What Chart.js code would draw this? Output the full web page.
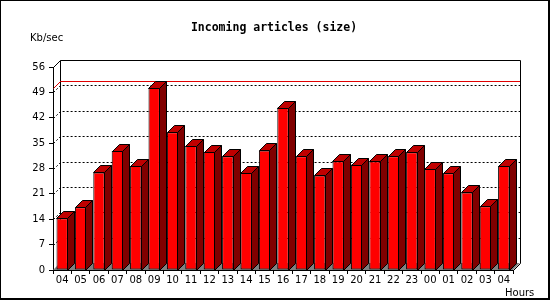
<!DOCTYPE html>
<html>
<head>
<meta charset="utf-8">
<script src="https://cdn.jsdelivr.net/npm/chart.js@4/dist/chart.umd.min.js"></script>
<style>
  html, body { margin: 0; padding: 0; background: #fff; }
  #wrap { width: 550px; height: 300px; }
</style>
</head>
<body>
<div id="wrap"><canvas id="chart" width="550" height="300"></canvas></div>
<script>
// ---- data ----
const hours = ['04','05','06','07','08','09','10','11','12','13','14','15','16',
               '17','18','19','20','21','22','23','00','01','02','03','04'];
const kbPerSec = [14.3, 17.3, 26.9, 32.8, 28.7, 50.2, 38.0, 34.2, 32.6, 31.4, 26.8, 33.0, 44.8,
                  31.4, 26.1, 30.0, 29.1, 30.0, 31.4, 32.5, 28.0, 26.7, 21.4, 17.6, 28.7];
const yMax = 56;
const yStep = 7;

const titleText = 'Incoming articles (size)';
const yLabel = 'Kb/sec';
const xLabel = 'Hours';

// depth of the fake 3d extrusion
const depth = 7;

const threeD = {
  id: 'threeD',
  beforeDatasetsDraw(chart) {
    const { ctx, chartArea: a, scales: { y } } = chart;
    const L = Math.round(a.left), R = Math.round(a.right);
    const T = Math.round(a.top), B = Math.round(a.bottom);
    ctx.save();

    // floor
    ctx.fillStyle = '#808080';
    ctx.beginPath();
    ctx.moveTo(L, B); ctx.lineTo(R, B);
    ctx.lineTo(R + depth, B - depth); ctx.lineTo(L + depth, B - depth);
    ctx.closePath(); ctx.fill();

    // back wall frame
    ctx.strokeStyle = '#000';
    ctx.lineWidth = 1;
    ctx.beginPath();
    ctx.moveTo(L + 0.5, T + 0.5);
    ctx.lineTo(L + depth + 0.5, T - depth + 0.5);
    ctx.moveTo(L + depth + 0.5, B - depth + 0.5);
    ctx.lineTo(L + depth + 0.5, T - depth + 0.5);
    ctx.lineTo(R + depth + 0.5, T - depth + 0.5);
    ctx.lineTo(R + depth + 0.5, B - depth + 0.5);
    ctx.lineTo(R + 0.5, B + 0.5);
    ctx.stroke();

    // dotted grid on the back wall
    ctx.setLineDash([2, 2]);
    for (let v = yStep; v < yMax; v += yStep) {
      const yy = Math.round(y.getPixelForValue(v));
      ctx.beginPath();
      ctx.moveTo(L + 0.5, yy + 0.5);
      ctx.lineTo(L + depth + 0.5, yy - depth + 0.5);
      ctx.lineTo(R + depth, yy - depth + 0.5);
      ctx.stroke();
    }
    ctx.setLineDash([]);

    // max value line
    const ym = Math.round(y.getPixelForValue(Math.max(...kbPerSec)));
    ctx.strokeStyle = '#e00000';
    ctx.beginPath();
    ctx.moveTo(L + 0.5, ym + 0.5);
    ctx.lineTo(L + depth + 0.5, ym - depth + 0.5);
    ctx.lineTo(R + depth, ym - depth + 0.5);
    ctx.stroke();
    ctx.restore();
  },
  afterDatasetsDraw(chart) {
    const ctx = chart.ctx;
    const meta = chart.getDatasetMeta(0);
    ctx.save();
    ctx.strokeStyle = '#000';
    ctx.lineWidth = 1;
    meta.data.forEach(bar => {
      const { x, y, width, base } = bar.getProps(['x', 'y', 'width', 'base'], true);
      const l = Math.round(x - width / 2) + 0.5;
      const r = Math.round(x + width / 2) - 0.5;
      const t = Math.round(y) + 0.5;
      const b = Math.round(base) + 0.5;
      // side
      ctx.fillStyle = '#800000';
      ctx.beginPath();
      ctx.moveTo(r, t); ctx.lineTo(r + depth, t - depth);
      ctx.lineTo(r + depth, b - depth); ctx.lineTo(r, b);
      ctx.closePath(); ctx.fill(); ctx.stroke();
      // top
      ctx.fillStyle = '#c00000';
      ctx.beginPath();
      ctx.moveTo(l, t); ctx.lineTo(l + depth, t - depth);
      ctx.lineTo(r + depth, t - depth); ctx.lineTo(r, t);
      ctx.closePath(); ctx.fill(); ctx.stroke();
    });
    ctx.restore();
  },
  afterDraw(chart) {
    const ctx = chart.ctx;
    ctx.save();
    ctx.fillStyle = '#000';
    ctx.font = 'bold 11.5px "DejaVu Sans Mono"';
    ctx.textAlign = 'center';
    ctx.textBaseline = 'alphabetic';
    ctx.fillText(titleText, 274, 31);
    ctx.font = '10px "DejaVu Sans"';
    ctx.textAlign = 'left';
    ctx.fillText(yLabel, 30, 41);
    ctx.fillText(xLabel, 505, 296);
    // outer frame
    ctx.fillRect(0, 0, 550, 1);
    ctx.fillRect(0, 0, 1, 300);
    ctx.fillRect(548, 0, 2, 300);
    ctx.fillRect(0, 298, 550, 2);
    ctx.restore();
  }
};

Chart.defaults.font.family = '"DejaVu Sans"';
Chart.defaults.font.size = 10;
Chart.defaults.color = '#000';

new Chart(document.getElementById('chart'), {
  type: 'bar',
  data: {
    labels: hours,
    datasets: [{
      data: kbPerSec,
      backgroundColor: '#ff0000',
      borderColor: '#000',
      borderWidth: 1,
      borderSkipped: false,
      barPercentage: 0.62,
      categoryPercentage: 1
    }]
  },
  options: {
    responsive: false,
    animation: false,
    layout: { padding: { top: 67, right: 37, bottom: 0, left: 0 } },
    plugins: { legend: { display: false }, title: { display: false }, tooltip: { enabled: false } },
    scales: {
      x: {
        grid: { drawOnChartArea: false, color: '#000', tickLength: 4 },
        border: { color: '#000' },
        ticks: { maxRotation: 0, autoSkip: false, padding: 0 },
        afterFit(scale) { scale.height = 30; }
      },
      y: {
        min: 0,
        max: yMax,
        grid: { drawOnChartArea: false, color: '#000', tickLength: 4 },
        border: { color: '#000' },
        ticks: { stepSize: yStep, padding: 4 },
        afterFit(scale) { scale.width = 53; }
      }
    }
  },
  plugins: [threeD]
});
</script>
</body>
</html>
